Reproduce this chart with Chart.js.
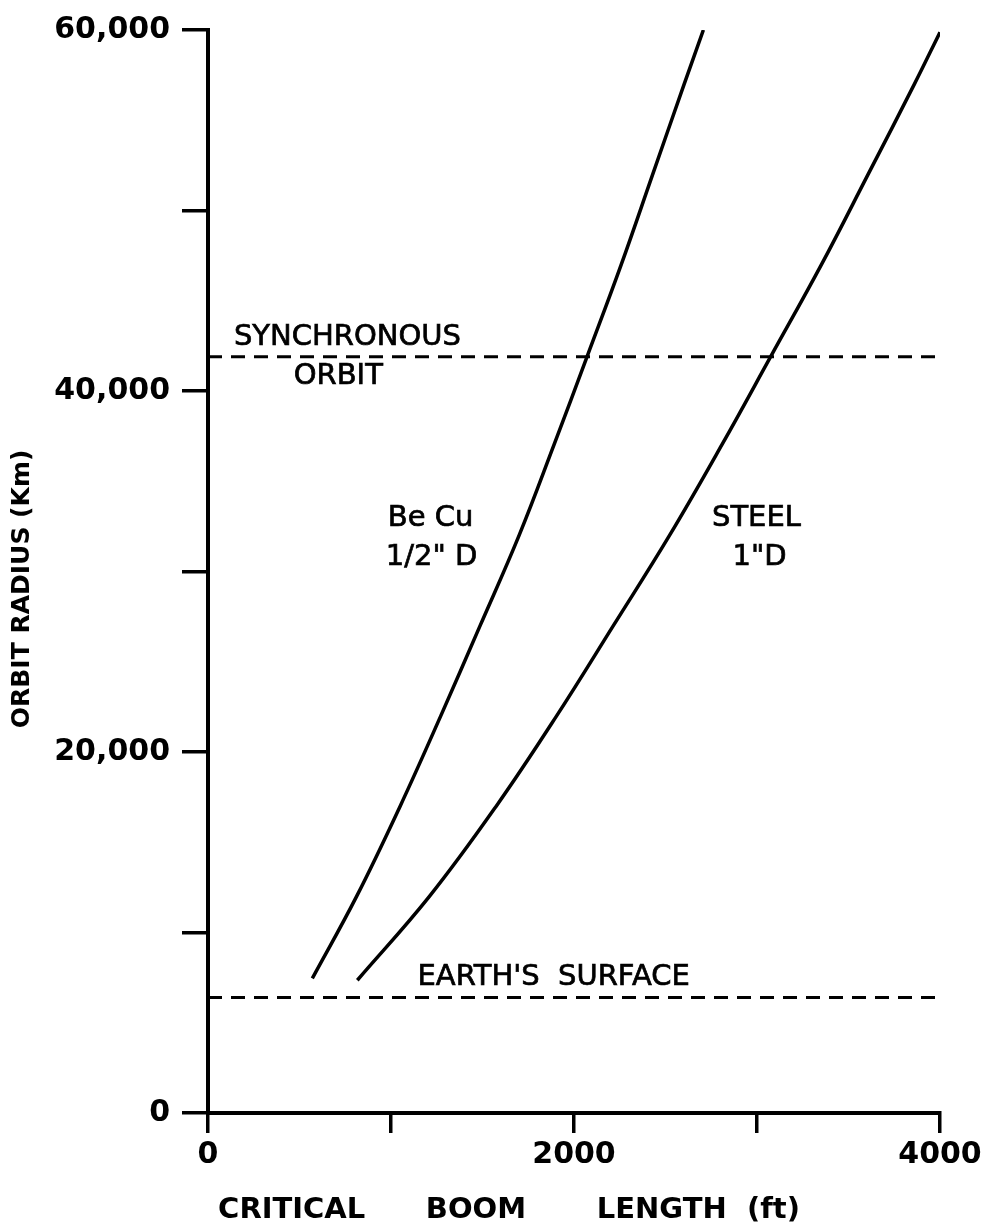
<!DOCTYPE html>
<html>
<head>
<meta charset="utf-8">
<title>Critical boom length vs orbit radius</title>
<script src="https://cdn.jsdelivr.net/npm/chart.js@4.4.1/dist/chart.umd.min.js"></script>
<style>
  html, body { margin: 0; padding: 0; background: #fff; }
  #wrap { width: 996px; height: 1232px; }
</style>
</head>
<body>
<div id="wrap"><canvas id="myChart" width="996" height="1232"></canvas></div>
<script>
/*** Values */
var beCuRadius  = [7460, 12000, 17000, 22000, 27000, 32000, 37000, 42000, 47000, 52000, 57000, 60000];
var beCuLength  = [570, 812, 1050, 1272, 1487, 1700, 1890, 2075, 2258, 2430, 2602, 2707];
var steelRadius = [7355, 12000, 17000, 22000, 27000, 32000, 37000, 42000, 47000, 52000, 57000, 59880];
var steelLength = [816, 1210, 1575, 1905, 2215, 2522, 2807, 3080, 3352, 3607, 3860, 4000];

var synchronousOrbit = 41900;   // km
var earthSurface = 6400;        // km
var lineSpan = [0, 4020];       // ft, the dashed lines run a bit past the last tick

var lengthLabels = [0, 2000, 4000];
var radiusLabels = [0, 20000, 40000, 60000];

function toPoints(xs, ys) {
    var pts = [];
    for (let i = 0; i < xs.length; i++) {
        pts.push({ x: xs[i], y: ys[i] });
    }
    return pts;
}

function hLine(value) {
    return lineSpan.map(function (x) { return { x: x, y: value }; });
}

var font = 'DejaVu Sans';

/** text written on the plot, anchored in data units */
var notes = [
    { text: 'SYNCHRONOUS', x: 762, y: 42950 },
    { text: 'ORBIT', x: 712, y: 40830 },
    { text: "EARTH'S  SURFACE", x: 1145, y: 7520, align: 'left' },
    { text: 'Be Cu', x: 1216, y: 32950 },
    { text: '1/2" D', x: 1222, y: 30750 },
    { text: 'STEEL', x: 2997, y: 32950 },
    { text: '1"D', x: 3014, y: 30750 }
];

var notesPlugin = {
    id: 'notes',
    afterDatasetsDraw: function (chart) {
        var ctx = chart.ctx;
        var xs = chart.scales.x, ys = chart.scales.y;
        ctx.save();
        ctx.fillStyle = '#000';
        ctx.strokeStyle = '#000';
        ctx.lineWidth = 0.7;
        ctx.textBaseline = 'middle';
        ctx.font = '29px "' + font + '"';
        notes.forEach(function (n) {
            var px = xs.getPixelForValue(n.x), py = ys.getPixelForValue(n.y);
            ctx.textAlign = n.align || 'center';
            ctx.fillText(n.text, px, py);
            ctx.strokeText(n.text, px, py);
        });
        ctx.restore();
    }
};

function curve(label, xs, ys) {
    return {
        label: label,
        data: toPoints(xs, ys),
        showLine: true,
        borderColor: '#000',
        borderWidth: 3.5,
        tension: 0.4,
        pointRadius: 0
    };
}

function dashed(label, value) {
    return {
        label: label,
        data: hLine(value),
        showLine: true,
        borderColor: '#000',
        borderWidth: 3,
        borderDash: [14, 9],
        pointRadius: 0,
        clip: false
    };
}

var ctx = document.getElementById('myChart').getContext('2d');
var myChart = new Chart(ctx, {
    type: 'scatter',
    data: {
        datasets: [
            curve('Be Cu 1/2" D', beCuLength, beCuRadius),
            curve('Steel 1" D', steelLength, steelRadius),
            dashed('Synchronous orbit', synchronousOrbit),
            dashed("Earth's surface", earthSurface)
        ]
    },
    options: {
        responsive: false,
        animation: false,
        layout: { padding: { top: 20, right: 56, bottom: 0, left: 0 } },
        plugins: {
            legend: { display: false },
            tooltip: { enabled: false }
        },
        scales: {
            x: {
                type: 'linear',
                min: 0,
                max: 4000,
                ticks: {
                    stepSize: 1000,
                    autoSkip: false,
                    maxRotation: 0,
                    padding: 4,
                    color: '#000',
                    font: { family: font, size: 30, weight: 'bold' },
                    callback: function (v) { return lengthLabels.indexOf(v) >= 0 ? String(v) : ''; }
                },
                grid: { drawOnChartArea: false, color: '#000', lineWidth: 3.5, tickLength: 20 },
                border: { color: '#000', width: 4 },
                title: {
                    display: true,
                    text: ' CRITICAL      BOOM       LENGTH  (ft)',
                    align: 'start',
                    color: '#000',
                    font: { family: font, size: 29, weight: 'bold' },
                    padding: { top: 0, bottom: 4 }
                },
                afterFit: function (s) { s.height = 119; }
            },
            y: {
                type: 'linear',
                min: 0,
                max: 60000,
                ticks: {
                    stepSize: 10000,
                    autoSkip: false,
                    padding: 12,
                    color: '#000',
                    font: { family: font, size: 30, weight: 'bold' },
                    callback: function (v) { return radiusLabels.indexOf(v) >= 0 ? v.toLocaleString('en-US') : ''; }
                },
                grid: { drawOnChartArea: false, color: '#000', lineWidth: 3.5, tickLength: 26 },
                border: { color: '#000', width: 4 },
                title: {
                    display: true,
                    text: 'ORBIT RADIUS (Km)    ',
                    color: '#000',
                    font: { family: font, size: 25, weight: 'bold' },
                    padding: { top: 7, bottom: 0 }
                },
                afterFit: function (s) { s.width = 208; }
            }
        }
    },
    plugins: [notesPlugin]
});
</script>
</body>
</html>
